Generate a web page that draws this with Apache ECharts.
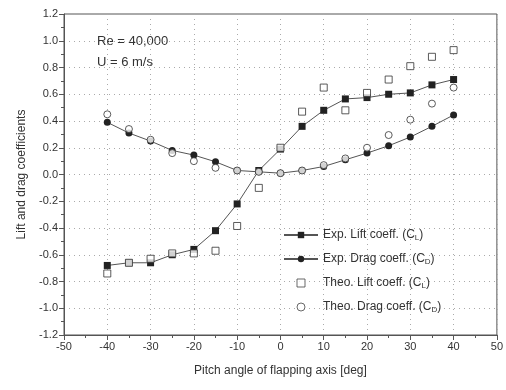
<!DOCTYPE html>
<html>
<head>
<meta charset="utf-8">
<script src="https://cdn.jsdelivr.net/npm/echarts@6/dist/echarts.min.js"></script>
<style>
html, body { margin: 0; padding: 0; background: #fff; }
#root { width: 506px; height: 390px; }
</style>
</head>
<body>
<div id="root"></div>
<script>
// pitch angle of flapping axis [deg]
var angles = [-40, -35, -30, -25, -20, -15, -10, -5, 0, 5, 10, 15, 20, 25, 30, 35, 40];
var expLift = [-0.68, -0.66, -0.66, -0.60, -0.56, -0.42, -0.22, 0.03, 0.19, 0.36, 0.48, 0.565, 0.575, 0.60, 0.61, 0.67, 0.71];
var expDrag = [0.39, 0.31, 0.25, 0.18, 0.145, 0.095, 0.03, 0.02, 0.01, 0.03, 0.06, 0.11, 0.16, 0.215, 0.28, 0.36, 0.445];
var theoLift = [-0.74, -0.66, -0.63, -0.59, -0.59, -0.57, -0.385, -0.10, 0.20, 0.47, 0.65, 0.48, 0.61, 0.71, 0.81, 0.88, 0.93];
var theoDrag = [0.45, 0.34, 0.26, 0.16, 0.10, 0.05, 0.03, 0.02, 0.01, 0.03, 0.07, 0.12, 0.20, 0.295, 0.41, 0.53, 0.65];

var names = ['Exp. Lift coeff. (C_L)', 'Exp. Drag coeff. (C_D)', 'Theo. Lift coeff. (C_L)', 'Theo. Drag coeff. (C_D)'];

function pairs(ys) {
    return angles.map(function (a, i) { return [a, ys[i]]; });
}

var ink = '#333';
var font = 'Liberation Sans';
var squareIcon = 'path://M0 0L10 0L10 10L0 10Z';
var circleIcon = 'path://M5 0A5 5 0 1 1 5 10A5 5 0 1 1 5 0Z';

var myChart = echarts.init(document.getElementById('root'));

var option = {
    backgroundColor: '#fff',
    animation: false,
    grid: {
        left: 64, right: 6, top: 14, bottom: 55,
        show: true,
        borderColor: '#555',
        borderWidth: 1
    },
    graphic: [
        { type: 'text', left: 97, top: 35, style: { text: 'Re = 40,000', font: '13px Liberation Sans', fill: ink } },
        { type: 'text', left: 97, top: 56, style: { text: 'U = 6 m/s', font: '13px Liberation Sans', fill: ink } }
    ],
    legend: {
        orient: 'vertical',
        left: 278,
        top: 224,
        itemWidth: 34,
        itemHeight: 8,
        itemGap: 11,
        symbolKeepAspect: true,
        data: [
            { name: names[0] },
            { name: names[1] },
            { name: names[2], icon: squareIcon, itemStyle: { color: '#fff', borderColor: '#444', borderWidth: 1 } },
            { name: names[3], icon: circleIcon, itemStyle: { color: '#fff', borderColor: '#444', borderWidth: 1 } }
        ],
        formatter: function (n) {
            var m = n.match(/^(.*\(C)_(\w)\)$/);
            return '{a|' + m[1] + '}{s|' + m[2] + '}{a|)}';
        },
        textStyle: {
            color: ink,
            fontFamily: font,
            rich: {
                a: { fontSize: 12, fontFamily: font, color: ink },
                s: { fontSize: 8, fontFamily: font, color: ink, verticalAlign: 'bottom', padding: [6, 0, 0, 0] }
            }
        }
    },
    xAxis: {
        type: 'value',
        min: -50, max: 50, interval: 10,
        name: 'Pitch angle of flapping axis [deg]',
        nameLocation: 'middle',
        nameGap: 30,
        nameTextStyle: { fontFamily: font, fontSize: 12, color: ink },
        axisLine: { onZero: false, lineStyle: { color: '#555' } },
        axisTick: { inside: false, length: 5, lineStyle: { color: '#555' } },
        minorTick: { show: true, splitNumber: 2, length: 3, lineStyle: { color: '#555' } },
        axisLabel: { fontFamily: font, fontSize: 11, color: ink, margin: 6 },
        splitLine: { show: true, lineStyle: { color: '#aaa', type: [1, 4] } }
    },
    yAxis: {
        type: 'value',
        min: -1.2, max: 1.2, interval: 0.2,
        name: 'Lift and drag coefficients',
        nameLocation: 'middle',
        nameGap: 36,
        nameTextStyle: { fontFamily: font, fontSize: 12, color: ink },
        axisLine: { show: true, onZero: false, lineStyle: { color: '#555' } },
        axisTick: { show: true, length: 5, lineStyle: { color: '#555' } },
        minorTick: { show: true, splitNumber: 2, length: 3, lineStyle: { color: '#555' } },
        axisLabel: {
            fontFamily: font, fontSize: 11, color: ink, margin: 6,
            formatter: function (v) { return v.toFixed(1); }
        },
        splitLine: { show: true, lineStyle: { color: '#aaa', type: [1, 4] } }
    },
    series: [
        {
            name: names[0],
            type: 'line',
            data: pairs(expLift),
            symbol: 'rect',
            symbolSize: 7,
            itemStyle: { color: '#222' },
            lineStyle: { color: '#555', width: 1 },
            z: 3
        },
        {
            name: names[1],
            type: 'line',
            data: pairs(expDrag),
            symbol: 'circle',
            symbolSize: 7,
            itemStyle: { color: '#222' },
            lineStyle: { color: '#555', width: 1 },
            z: 3
        },
        {
            name: names[2],
            type: 'scatter',
            data: pairs(theoLift),
            symbol: 'rect',
            symbolSize: 7,
            itemStyle: { color: '#fff', borderColor: '#333', borderWidth: 1 },
            z: 4
        },
        {
            name: names[3],
            type: 'scatter',
            data: pairs(theoDrag),
            symbol: 'circle',
            symbolSize: 7,
            itemStyle: { color: '#fff', borderColor: '#333', borderWidth: 1 },
            z: 4
        }
    ]
};
myChart.setOption(option);
</script>
</body>
</html>
